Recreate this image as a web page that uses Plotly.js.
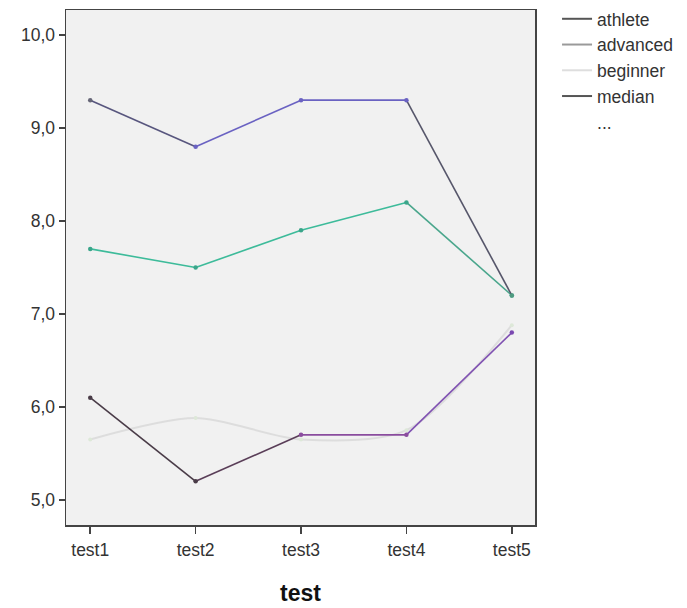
<!DOCTYPE html>
<html>
<head>
<meta charset="utf-8">
<script src="https://cdn.plot.ly/plotly-3.0.1.min.js"></script>
<style>html,body{margin:0;padding:0;background:#fff;}#chart{width:687px;height:608px;}</style>
</head>
<body>
<div id="chart"></div>
<script>
// ---- data ----
const tests = ["test1", "test2", "test3", "test4", "test5"];
const athlete  = [9.3, 8.8, 9.3, 9.3, 7.2];
const advanced = [7.7, 7.5, 7.9, 8.2, 7.2];
const beginner = [5.65, 5.88, 5.65, 5.75, 6.88];
const median   = [6.1, 5.2, 5.7, 5.7, 6.8];
const legendNames = ["athlete", "advanced", "beginner", "median", "..."];

// ---- styles ----
const athleteSegColors  = ["#58567e", "#6a62c2", "#6a62c2", "#56566a"];
const athleteDotColors  = ["#666677", "#6a62c2", "#6a62c2", "#6a62c2", "#4f9a80"];
const advancedSegColors = ["#3dbb9a", "#3dbb9a", "#3dbb9a", "#4aa68c"];
const medianSegColors   = ["#4a3c48", "#5a3e58", "#8a4c9e", "#8052b2"];
const medianDotColors   = ["#4a3c48", "#4a3c48", "#8a4c9e", "#8a4c9e", "#7a48b0"];
const legendColors = ["#555555", "#9a9a9a", "#dedede", "#555555", "rgba(0,0,0,0)"];

const traces = [];
function segs(vals, colors, width) {
  for (let i = 0; i < vals.length - 1; i++) {
    traces.push({
      x: [tests[i], tests[i + 1]], y: [vals[i], vals[i + 1]],
      type: "scatter", mode: "lines", showlegend: false, hoverinfo: "skip",
      line: {color: colors[i], width: width}
    });
  }
}
// beginner (faint, smooth)
traces.push({x: tests, y: beginner, type: "scatter", mode: "lines+markers", showlegend: false,
  line: {color: "#dddddd", width: 2, shape: "spline", smoothing: 0.8},
  marker: {color: "#dde8d8", size: 4}});
segs(advanced, advancedSegColors, 1.6);
traces.push({x: tests, y: advanced, type: "scatter", mode: "markers", showlegend: false,
  marker: {color: "#3aa58a", size: 4.5}});
segs(median, medianSegColors, 1.6);
traces.push({x: tests, y: median, type: "scatter", mode: "markers", showlegend: false,
  marker: {color: medianDotColors, size: 4.5}});
segs(athlete, athleteSegColors, 1.6);
traces.push({x: tests, y: athlete, type: "scatter", mode: "markers", showlegend: false,
  marker: {color: athleteDotColors, size: 4.5}});

// legend entries
legendNames.forEach((n, i) => {
  traces.push({x: [null], y: [null], type: "scatter", mode: "lines", name: n,
    legendgroup: "g" + i, line: {color: legendColors[i], width: 2}});
});

const font = {family: "Liberation Sans, Arial, sans-serif", size: 17.5, color: "#333"};
const layout = {
  width: 687, height: 608,
  margin: {l: 66, r: 152, t: 10, b: 83, autoexpand: false},
  paper_bgcolor: "#ffffff",
  plot_bgcolor: "#f1f1f1",
  separators: ",.",
  font: font,
  showlegend: true,
  legend: {x: 1.047, xanchor: "left", yref: "container", y: 0.9985, yanchor: "top", traceorder: "grouped",
    tracegroupgap: 0, font: {family: font.family, size: 17.5, color: "#333"},
    bgcolor: "rgba(0,0,0,0)"},
  xaxis: {
    type: "category", range: [-0.23, 4.22],
    showgrid: false, zeroline: false,
    showline: true, linecolor: "#444", linewidth: 1.5, mirror: true,
    ticks: "outside", ticklen: 7, tickwidth: 1.5, tickcolor: "#444",
    ticklabelstandoff: 1,
    tickfont: font,
    title: {text: "<b>test</b>", font: {family: font.family, size: 23, color: "#111"}, standoff: 26}
  },
  yaxis: {
    range: [4.73, 10.27], dtick: 1, tick0: 5, tickformat: ".1f",
    showgrid: false, zeroline: false,
    showline: true, linecolor: "#444", linewidth: 1.5, mirror: true,
    ticks: "outside", ticklen: 6, tickwidth: 1.5, tickcolor: "#444",
    tickfont: font
  }
};
Plotly.newPlot("chart", traces, layout, {displayModeBar: false, staticPlot: true});
</script>
</body>
</html>
